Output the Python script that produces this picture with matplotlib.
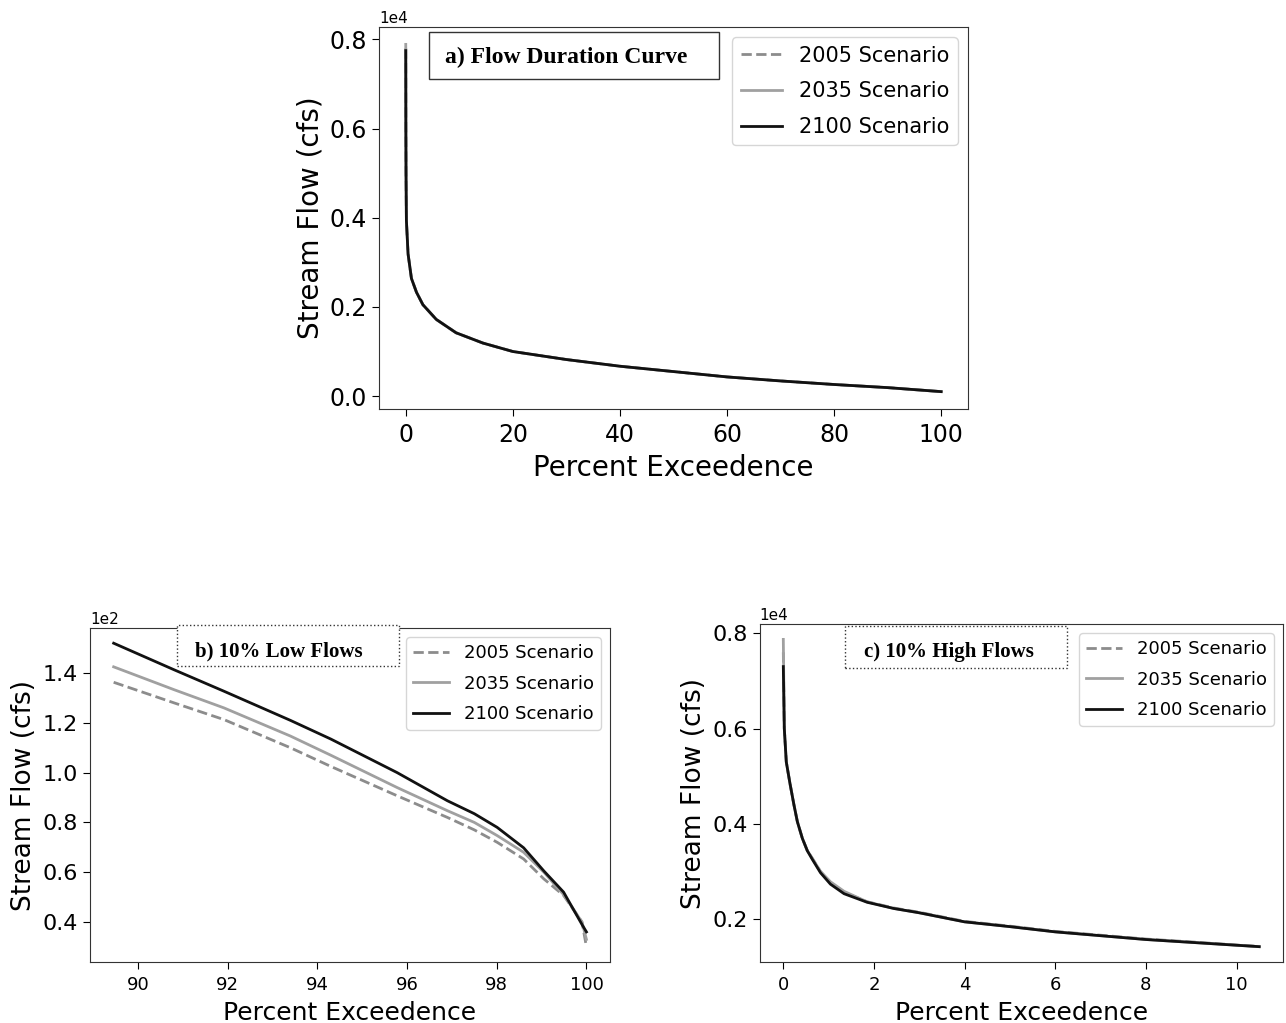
import matplotlib
matplotlib.use("Agg")
import matplotlib.pyplot as plt
from matplotlib.patches import Rectangle

# values (stream flow in cfs)
scenarios = ["2005 Scenario", "2035 Scenario", "2100 Scenario"]

# a) whole flow duration curve
a_pct = [0, 0.02, 0.05, 0.12, 0.43, 1.06, 2.0, 3.2, 5.7, 9.4, 14.4, 20, 30, 40, 50, 60, 70, 80, 90, 100]
a_2005 = [7800, 6000, 5000, 3940, 3190, 2640, 2330, 2050, 1720, 1420, 1190, 1000, 820, 670, 550, 430, 340, 260, 190, 100]
a_2035 = [7890, 6000, 5000, 3940, 3190, 2640, 2330, 2050, 1720, 1420, 1190, 1000, 820, 670, 550, 430, 340, 260, 190, 100]
a_2100 = [7750, 6000, 5000, 3940, 3190, 2640, 2330, 2050, 1720, 1420, 1190, 1000, 820, 670, 550, 430, 340, 260, 190, 100]

# b) 10% low flows
b_pct = [89.46, 90.81, 91.92, 93.4, 94.3, 95.78, 96.9, 97.5, 98.01, 98.6, 99.05, 99.49, 99.9, 100]
b_2005 = [136.3, 128.0, 121.3, 110.0, 102.5, 90.7, 82.0, 77.0, 72.0, 65.3, 57.3, 50.7, 40.0, 30.0]
b_2035 = [142.5, 133.3, 126.0, 114.7, 107.0, 94.0, 84.7, 80.0, 74.7, 68.0, 60.0, 51.0, 40.0, 33.0]
b_2100 = [152.0, 141.3, 132.7, 121.0, 113.5, 100.0, 88.7, 83.5, 78.0, 69.8, 60.5, 52.0, 39.0, 36.0]

# c) 10% high flows
c_pct = [0, 0.022, 0.066, 0.147, 0.235, 0.31, 0.42, 0.53, 0.64, 0.82, 1.04, 1.34, 1.85, 2.44, 3.0, 4, 5, 6, 7, 8, 9, 10, 10.5]
c_2005 = [7600, 6000, 5300, 4850, 4400, 4050, 3700, 3440, 3280, 3000, 2770, 2570, 2370, 2240, 2150, 1960, 1860, 1750, 1670, 1590, 1530, 1465, 1435]
c_2035 = [7870, 6000, 5300, 4850, 4400, 4050, 3700, 3440, 3280, 3010, 2790, 2590, 2370, 2230, 2140, 1950, 1850, 1740, 1660, 1580, 1520, 1460, 1430]
c_2100 = [7300, 6000, 5300, 4850, 4400, 4050, 3700, 3440, 3260, 2980, 2740, 2540, 2360, 2230, 2140, 1950, 1850, 1740, 1660, 1580, 1520, 1460, 1430]

styles = [dict(color="#8c8c8c", ls="--", lw=2),
          dict(color="#a0a0a0", ls="-", lw=2),
          dict(color="#111111", ls="-", lw=2)]


def draw_panel(ax, pct, series, order, title, box, text_xy, box_ls,
               tick_x, tick_y, lab_x, lab_y, leg_fs, leg_sp, title_fs):
    for vals, name, st in zip(series, scenarios, styles):
        ax.plot(pct, vals, label=name, **st)
    ax.ticklabel_format(axis="y", style="sci", scilimits=(order, order))
    ax.yaxis.get_offset_text().set_fontsize(11)
    ax.tick_params(axis="x", labelsize=tick_x, length=5, pad=5)
    ax.tick_params(axis="y", labelsize=tick_y, length=5)
    ax.set_xlabel("Percent Exceedence", fontsize=lab_x, labelpad=5)
    ax.set_ylabel("Stream Flow (cfs)", fontsize=lab_y)
    ax.legend(loc="upper right", fontsize=leg_fs, labelspacing=leg_sp)
    x0, y0, x1, y1 = box
    ax.add_patch(Rectangle((x0, y0), x1 - x0, y1 - y0, transform=ax.transAxes,
                           fill=True, facecolor="white", edgecolor="#333333",
                           lw=1, ls=box_ls, clip_on=False, zorder=5))
    ax.text(text_xy[0], text_xy[1], title, transform=ax.transAxes,
            ha="center", va="center", fontsize=title_fs, fontweight="bold",
            family="Liberation Serif", zorder=6)
    for s in ax.spines.values():
        s.set_color("#333333")


fig = plt.figure(figsize=(12.86, 10.23), dpi=100)

ax_a = fig.add_axes([0.2947, 0.6002, 0.458, 0.3734])
draw_panel(ax_a, a_pct, [a_2005, a_2035, a_2100], 4, "a) Flow Duration Curve",
           (0.085, 0.864, 0.577, 0.987), (0.318, 0.921), "-",
           17, 17, 20, 20, 15, 0.75, 17)

ax_b = fig.add_axes([0.07, 0.0596, 0.4044, 0.3265])
draw_panel(ax_b, b_pct, [b_2005, b_2035, b_2100], 2, "b) 10% Low Flows",
           (0.167, 0.886, 0.594, 1.009), (0.363, 0.931), ":",
           13, 16, 18, 19, 13, 0.68, 15)

ax_c = fig.add_axes([0.5906, 0.0596, 0.4071, 0.3304])
draw_panel(ax_c, c_pct, [c_2005, c_2035, c_2100], 4, "c) 10% High Flows",
           (0.163, 0.870, 0.587, 0.994), (0.362, 0.917), ":",
           13, 16, 18, 19, 13, 0.68, 15)

fig.savefig("out.png", dpi=100, facecolor="white")
